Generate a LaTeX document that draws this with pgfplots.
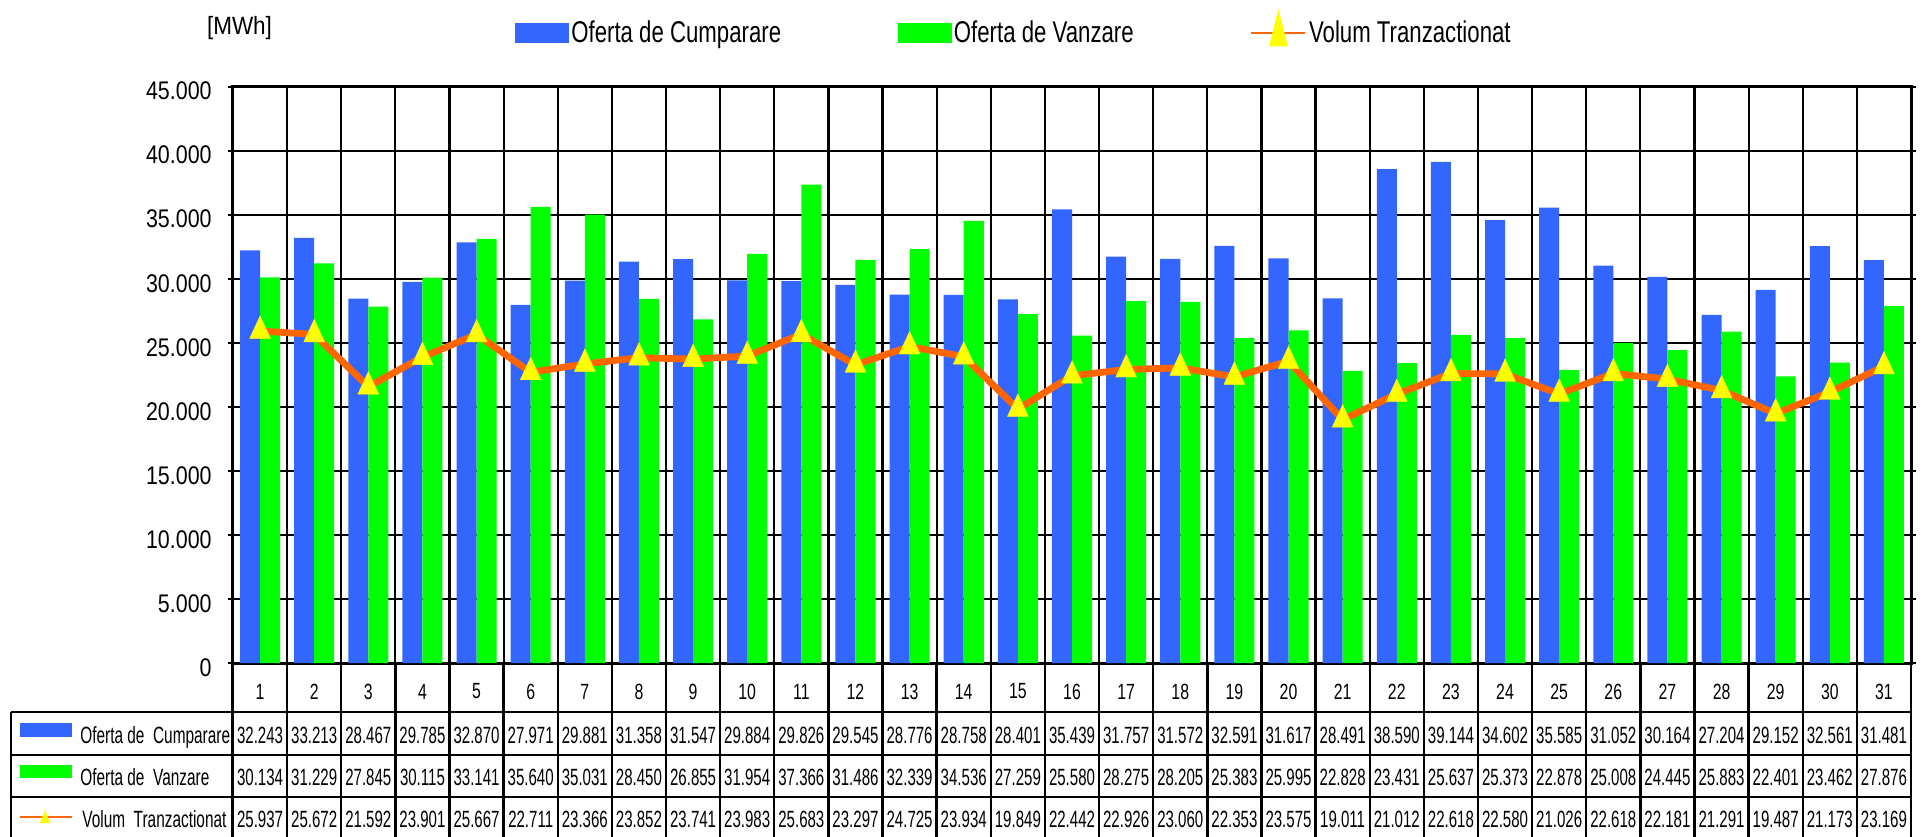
\documentclass[border=0pt]{standalone}
\usepackage{fontspec}
\setmainfont{Liberation Sans}
\newfontfamily\tickfont{Liberation Sans}[FakeStretch=0.84]
\newfontfamily\legfont{Liberation Sans}[FakeStretch=0.74]
\newfontfamily\numfont{Liberation Sans}[FakeStretch=0.64]
\newfontfamily\labfont{Liberation Sans}[FakeStretch=0.655]
\newfontfamily\catfont{Liberation Sans}[FakeStretch=0.72]
\newfontfamily\unitfont{Liberation Sans}[FakeStretch=0.9]
\usepackage{pgfplots}
\usepackage{pgfplotstable}
\pgfplotsset{compat=1.18}
\definecolor{cblue}{HTML}{3366FF}
\definecolor{cgreen}{HTML}{00FF00}
\definecolor{corange}{HTML}{FF6600}
\definecolor{cyellow}{HTML}{FFFF00}

\pgfplotstableread{
day cump vanz vol
1 32243 30134 25937
2 33213 31229 25672
3 28467 27845 21592
4 29785 30115 23901
5 32870 33141 25667
6 27971 35640 22711
7 29881 35031 23366
8 31358 28450 23852
9 31547 26855 23741
10 29884 31954 23983
11 29826 37366 25683
12 29545 31486 23297
13 28776 32339 24725
14 28758 34536 23934
15 28401 27259 19849
16 35439 25580 22442
17 31757 28275 22926
18 31572 28205 23060
19 32591 25383 22353
20 31617 25995 23575
21 28491 22828 19011
22 38590 23431 21012
23 39144 25637 22618
24 34602 25373 22580
25 35585 22878 21026
26 31052 25008 22618
27 30164 24445 22181
28 27204 25883 21291
29 29152 22401 19487
30 32561 23462 21173
31 31481 27876 23169
}\data

\begin{document}
\begin{tikzpicture}
\begin{axis}[
  at={(0pt,0pt)}, anchor=south west,
  scale only axis, width=839pt, height=288pt,
  xmin=0.5, xmax=31.5, ymin=0, ymax=45000,
  xtick={1,...,31},
  xticklabel={\pgfmathprintnumber[fixed,precision=0,assume math mode=true]{\tick}},
  xticklabel style={anchor=center, inner sep=0pt, yshift=-11.75pt, font=\catfont\fontsize{11}{12}\selectfont},
  xtick style={draw=none},
  minor x tick num=1,
  minor tick length=0pt,
  xminorgrids=true,
  ytick={0,5000,...,45000},
  ymajorgrids=true,
  scaled y ticks=false,
  yticklabel={\pgfmathprintnumber[fixed,precision=0,1000 sep={.},assume math mode=true]{\tick}},
  yticklabel style={anchor=base east, inner sep=0pt, xshift=-8pt, yshift=-6.5pt, font=\tickfont\fontsize{12.75}{14}\selectfont},
  tick align=outside, major tick length=2.5pt,
  tick style={black, line width=1.2pt},
  axis line style={line width=1.5pt},
  major grid style={black, line width=1.1pt},
  minor grid style={black, line width=1.1pt},
  legend columns=3,
  legend style={at={(axis description cs:0.1678,1.0937)}, anchor=west, draw=none, fill=none,
    inner sep=0pt, font=\legfont\fontsize{15}{17}\selectfont, nodes={inner sep=1.2pt},
    /tikz/every even column/.append style={column sep=57pt}},
]
\addplot[ybar, bar width=0.37, bar shift=-0.185, fill=cblue, draw=none,
  legend image code/.code={\fill[cblue] (0pt,-5pt) rectangle (27pt,5pt);}]
  table[x=day, y=cump] {\data};
\addlegendentry{Oferta de Cumparare}
\addplot[ybar, bar width=0.37, bar shift=0.185, fill=cgreen, draw=none,
  legend image code/.code={\fill[cgreen] (0pt,-5pt) rectangle (27pt,5pt);}]
  table[x=day, y=vanz] {\data};
\addlegendentry{Oferta de Vanzare}
\addplot[corange, line width=3.4pt, mark=triangle*, mark size=7.5pt,
  mark options={cyellow, fill=cyellow, xscale=0.8, line width=0.2pt},
  legend image code/.code={\draw[corange, line width=1.3pt] (0pt,0pt) -- (27pt,0pt);
     \fill[cyellow] (11pt,-5pt) -- (16pt,-5pt) -- (13.5pt,5pt) -- cycle;}]
  table[x=day, y=vol] {\data};
\addlegendentry{Volum Tranzactionat}
\end{axis}

\begin{scope}[shift={(-116.5pt,331.5pt)}, x=0.5pt, y=-0.5pt]
  \draw[line width=1.2pt] (11,712) -- (1911,712);
  \draw[line width=1.2pt] (11,755) -- (1911,755);
  \draw[line width=1.2pt] (11,797) -- (1911,797);
  \draw[line width=1.2pt] (11,712) -- (11,845);
  \foreach \k in {1,...,31} {\draw[line width=1.2pt] ({233+\k*54.129},663) -- ({233+\k*54.129},845);}
  \draw[line width=1.5pt] (233,663) -- (233,845);
  \fill[cblue] (20,723) rectangle (72,737);
  \fill[cgreen] (20,765) rectangle (72,778);
  \draw[corange, line width=1.1pt] (20,817) -- (72,817);
  \fill[cyellow] (40,823) -- (50,823) -- (45,810) -- cycle;
  \node[anchor=base west, inner sep=0pt, font=\labfont\fontsize{11.75}{13}\selectfont] at (80,743) {Oferta de\ \ Cumparare};
  \node[anchor=base west, inner sep=0pt, font=\labfont\fontsize{11.75}{13}\selectfont] at (80,785) {Oferta de\ \ Vanzare};
  \node[anchor=base west, inner sep=0pt, font=\labfont\fontsize{11.75}{13}\selectfont] at (82,827) {Volum\ \ Tranzactionat};
  \node[anchor=base, inner sep=0pt, font=\unitfont\fontsize{12.5}{14}\selectfont] at (239.5,35) {[MWh]};
  \foreach \i in {0,...,30} {
    \pgfplotstablegetelem{\i}{cump}\of\data
    \node[anchor=base, inner sep=0pt, font=\numfont\fontsize{11.75}{13}\selectfont] at ({233+(\i+0.5)*54.129},743) {\pgfmathprintnumber[fixed,precision=0,1000 sep={.},assume math mode=true]{\pgfplotsretval}};
    \pgfplotstablegetelem{\i}{vanz}\of\data
    \node[anchor=base, inner sep=0pt, font=\numfont\fontsize{11.75}{13}\selectfont] at ({233+(\i+0.5)*54.129},785) {\pgfmathprintnumber[fixed,precision=0,1000 sep={.},assume math mode=true]{\pgfplotsretval}};
    \pgfplotstablegetelem{\i}{vol}\of\data
    \node[anchor=base, inner sep=0pt, font=\numfont\fontsize{11.75}{13}\selectfont] at ({233+(\i+0.5)*54.129},827) {\pgfmathprintnumber[fixed,precision=0,1000 sep={.},assume math mode=true]{\pgfplotsretval}};
  }
  \pgfresetboundingbox
  \path[use as bounding box] (0,0) rectangle (1923,836);
\end{scope}
\end{tikzpicture}
\end{document}
